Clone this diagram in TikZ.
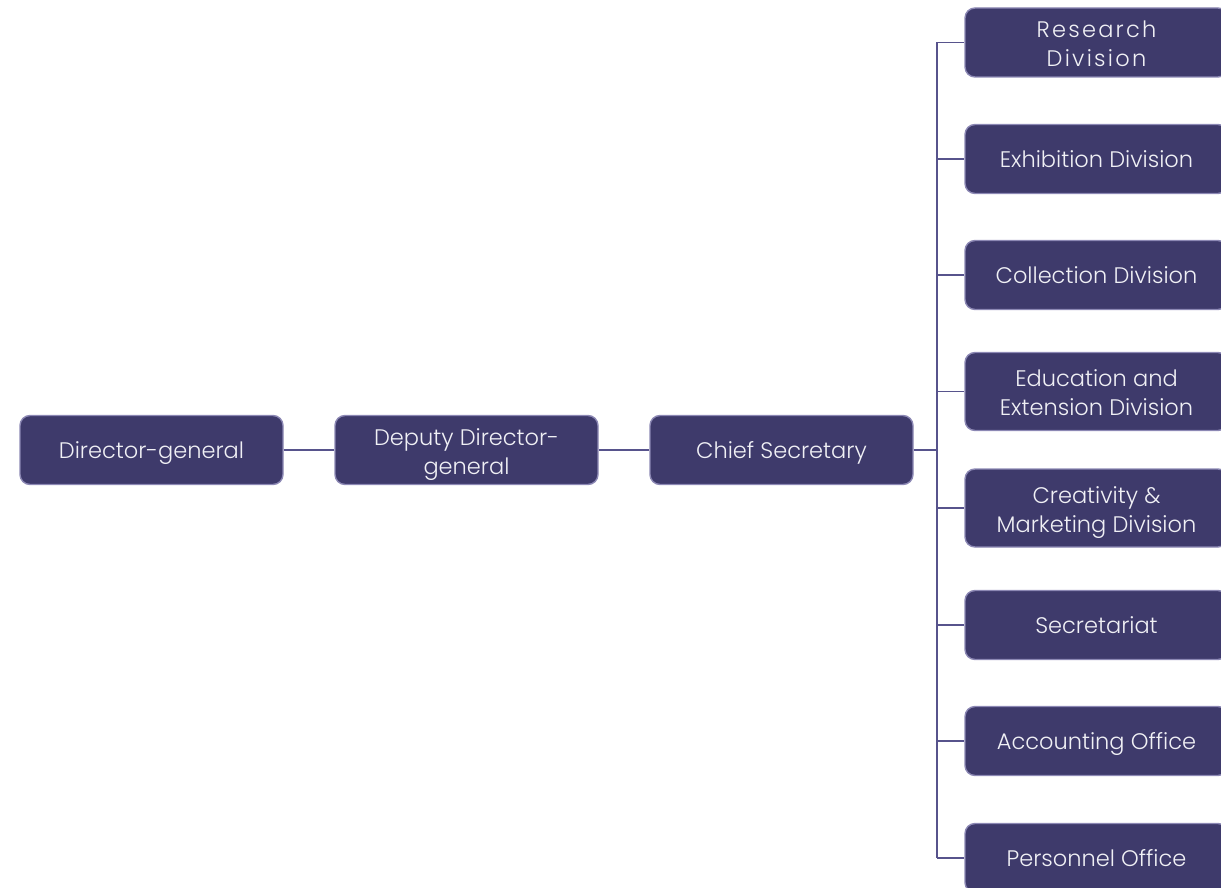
\documentclass[tikz,border=0pt]{standalone}
\usepackage{fontspec}
\setmainfont{Poppins Light}
\definecolor{boxfill}{HTML}{3E3A6B}
\definecolor{boxline}{HTML}{8C88B4}
\definecolor{conn}{HTML}{57538C}
\definecolor{boxtext}{HTML}{F0F0F5}
\newcommand{\tupper}{\rule[-6pt]{0pt}{29pt}}
\newcommand{\liftby}[1]{\rule{0pt}{#1}}
\tikzset{
  orgbox/.style={draw=boxline, line width=1.4pt, fill=boxfill, rounded corners=10pt,
    minimum width=263pt, minimum height=69pt, align=center, text=boxtext,
    font=\fontsize{22.5}{29}\selectfont, inner sep=2pt,
    execute at begin node=\tupper},
  twoline/.style={execute at begin node={}},
  tallbox/.style={orgbox, minimum height=78pt},
  link/.style={draw=conn, line width=1.2pt}
}
\begin{document}
\begin{tikzpicture}[x=1pt,y=-1pt]
\useasboundingbox (0,0) rectangle (1221,888);
\clip (0,0) rectangle (1221,888);
\node[orgbox] (dg) at (151.5,450) {Director-general};
\node[orgbox,twoline] (ddg) at (466.5,450) {\liftby{26pt}Deputy Director-\\general};
\node[orgbox] (cs) at (781.5,450) {Chief Secretary};
\node[orgbox,twoline] (r1) at (1096.5,42.5) {\liftby{26pt}\addfontfeatures{LetterSpace=10}Research\\\addfontfeatures{LetterSpace=10}Division};
\node[orgbox] (r2) at (1096.5,159) {Exhibition Division};
\node[orgbox] (r3) at (1096.5,275) {Collection Division};
\node[tallbox,twoline] (r4) at (1096.5,391.5) {\liftby{25pt}Education and\\Extension Division};
\node[tallbox,twoline] (r5) at (1096.5,508) {\liftby{27pt}Creativity \&\\Marketing Division};
\node[orgbox] (r6) at (1096.5,625) {Secretariat};
\node[orgbox] (r7) at (1096.5,741) {Accounting Office};
\node[orgbox] (r8) at (1096.5,858) {Personnel Office};
\coordinate (bus) at (937,450);
\draw[link] (dg.east) -- (ddg.west);
\draw[link] (ddg.east) -- (cs.west);
\draw[link] (cs.east) -- (bus);
\draw[link] (bus |- r1.west) -- (bus |- r8.west);
\foreach \n in {r1,r2,r3,r4,r5,r6,r7,r8}{
  \draw[link] (bus |- \n.west) -- (\n.west);
}
\end{tikzpicture}
\end{document}
